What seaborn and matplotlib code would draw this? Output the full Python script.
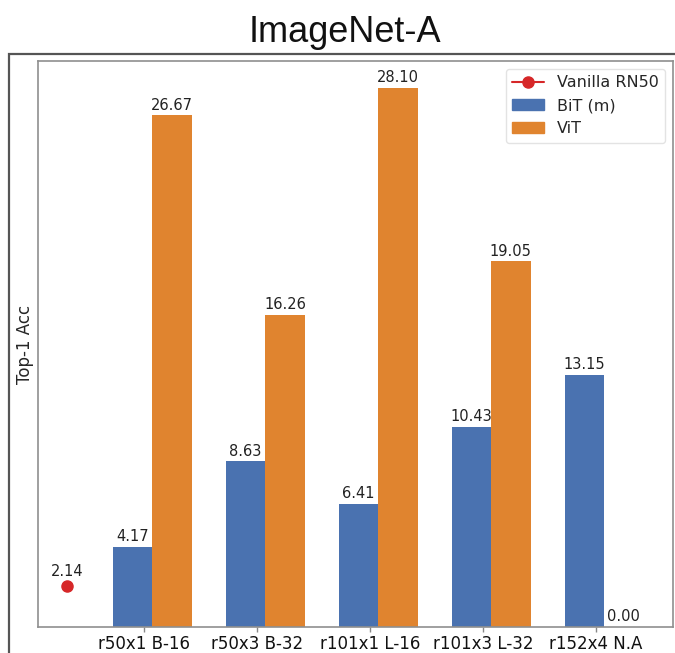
import numpy as np
import pandas as pd
import matplotlib
matplotlib.use("Agg")
import matplotlib.pyplot as plt
import seaborn as sns
from matplotlib.patches import Rectangle
from matplotlib.lines import Line2D

# Data
categories = ["r50x1 B-16", "r50x3 B-32", "r101x1 L-16", "r101x3 L-32", "r152x4 N.A"]
bit_acc = [4.17, 8.63, 6.41, 10.43, 13.15]
vit_acc = [26.67, 16.26, 28.10, 19.05, 0.00]
vanilla_acc = 2.14
series_names = ["BiT (m)", "ViT"]
vanilla_name = "Vanilla RN50"

sns.set_theme(style="white")
plt.rcParams["font.family"] = ["DejaVu Sans"]

df = pd.DataFrame({
    "model": categories * 2,
    "acc": bit_acc + vit_acc,
    "family": [series_names[0]] * len(categories) + [series_names[1]] * len(categories),
})

W, H = 675, 653
fig = plt.figure(figsize=(W / 100, H / 100), dpi=100)
ax = fig.add_axes([38 / W, 1 - 627 / H, (673 - 38) / W, (627 - 61) / H])

colors = ["#4A72B0", "#E0842F"]
sns.barplot(data=df, x="model", y="acc", hue="family", palette=colors,
            width=0.7, saturation=1, errorbar=None, legend=False,
            linewidth=0, edgecolor="none", ax=ax)

for cont in ax.containers:
    ax.bar_label(cont, fmt="%.2f", fontsize=10.5, padding=2, color="#222222")

# Baseline point
red = "#D62728"
vx = -0.75
ax.plot([vx], [vanilla_acc], marker="o", color=red, markersize=8,
        markeredgecolor=red, linestyle="-")
ax.annotate(f"{vanilla_acc:.2f}", (vx, vanilla_acc), xytext=(0, 5),
            textcoords="offset points", ha="center", va="bottom",
            fontsize=10.5, color="#222222")

ax.set_xlim(-1.01, 4.61)
ax.set_ylim(0, 29.5)
ax.set_xticks(np.arange(len(categories)) - 0.07)
ax.set_xticklabels(categories, fontsize=12)
ax.set_yticks([])
ax.set_xlabel("")
ax.set_ylabel("Top-1 Acc", fontsize=12)
ax.yaxis.set_label_coords(-0.006, 0.5)
ax.tick_params(axis="x", bottom=True, length=3.5, width=1, color="#888888", pad=2.5, labelcolor="#111111")

for s in ax.spines.values():
    s.set_color("#8f8f8f")
    s.set_linewidth(1.2)

handles = [
    Line2D([0], [0], color=red, marker="o", markersize=8, lw=1.5),
    plt.Rectangle((0, 0), 1, 1, color=colors[0]),
    plt.Rectangle((0, 0), 1, 1, color=colors[1]),
]
ax.legend(handles, [vanilla_name] + series_names, loc="upper right",
          fontsize=11.5, frameon=True, edgecolor="#dddddd")

# Outer frame and title
frame = Rectangle((9 / W, -0.2), 1.3, 1 - 54 / H + 0.2, transform=fig.transFigure,
                  fill=False, edgecolor="#555555", linewidth=1.6, clip_on=False)
fig.add_artist(frame)
fig.text(345 / W, 1 - 42 / H, "ImageNet-A", ha="center", va="baseline",
         fontsize=26, family=["Liberation Sans", "DejaVu Sans"], color="#111111")

fig.savefig("out.png", dpi=100)
